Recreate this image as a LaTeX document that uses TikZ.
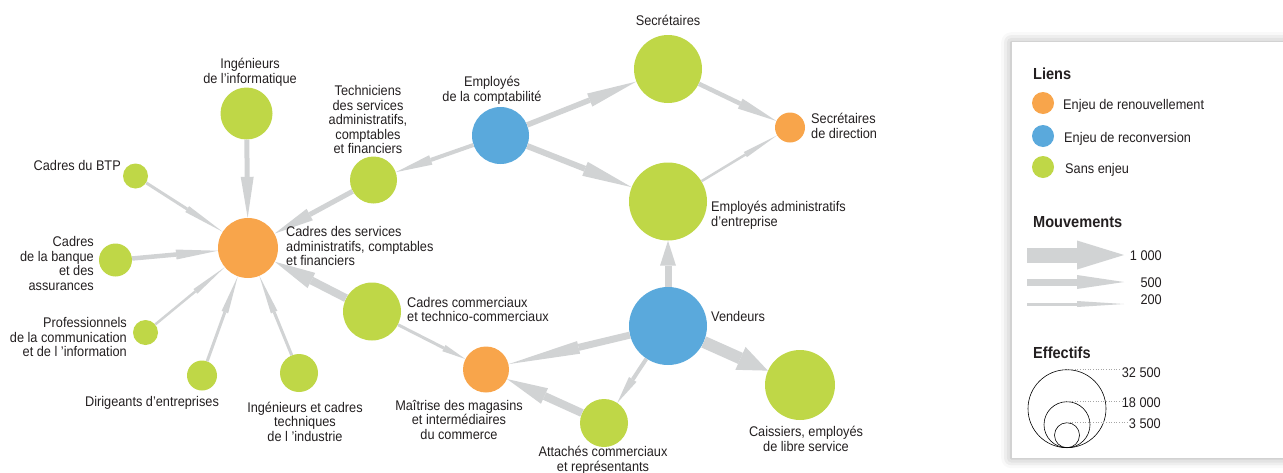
\documentclass[tikz,border=0pt]{standalone}
\usepackage{fontspec}
\setmainfont{Liberation Sans}[FakeStretch=0.91]
\usetikzlibrary{arrows.meta,shadows.blur}
\definecolor{orng}{HTML}{F8A54B}
\definecolor{blu}{HTML}{5AA9DC}
\definecolor{grn}{HTML}{BFD747}
\definecolor{agrey}{HTML}{D1D3D4}
\definecolor{txt}{HTML}{231F20}
\tikzset{
  job/.style={circle, inner sep=0pt, minimum size=#1},
  lbl/.style={text=txt, font=\fontsize{14}{14.5}\selectfont, inner sep=0pt},
  head/.style={text=txt, font=\fontsize{16}{18}\selectfont\bfseries, inner sep=0pt, anchor=base west},
  mv/.style n args={3}{draw=agrey, line width=#1, -{Triangle[length=#3, width=#2, line width=0pt]}},
  ring/.style={draw=black, line width=0.6pt, circle, inner sep=0pt, minimum size=#1, anchor=south},
  guide/.style={draw=gray!70, dotted, line width=0.6pt},
}
\begin{document}
\begin{tikzpicture}[x=1pt,y=-1pt]
\useasboundingbox (0,0) rectangle (1283,472);

% ---------- job nodes ----------
\node[job=52pt, fill=grn]  (infoIng) at (246.5,113.5) {};
\node[job=25pt, fill=grn]  (btp)     at (135.5,176) {};
\node[job=60pt, fill=orng] (cadsvc)  at (248,248) {};
\node[job=33pt, fill=grn]  (banque)  at (115.5,260) {};
\node[job=25pt, fill=grn]  (prof)    at (145.5,332.5) {};
\node[job=30pt, fill=grn]  (dirig)   at (202,375.5) {};
\node[job=38pt, fill=grn]  (ingtech) at (299,373) {};
\node[job=47pt, fill=grn]  (tech)    at (373.5,180) {};
\node[job=57pt, fill=blu]  (empcpt)  at (500.5,135.5) {};
\node[job=68pt, fill=grn]  (secr)    at (668,69) {};
\node[job=30pt, fill=orng] (secdir)  at (790,127.5) {};
\node[job=78pt, fill=grn]  (empadm)  at (668,201.5) {};
\node[job=78pt, fill=blu]  (vend)    at (668,326) {};
\node[job=70pt, fill=grn]  (caiss)   at (800,385) {};
\node[job=48pt, fill=grn]  (attach)  at (604,423) {};
\node[job=46pt, fill=orng] (maitr)   at (486,369.5) {};
\node[job=58pt, fill=grn]  (cadcom)  at (372,311.5) {};

% ---------- movements ----------
\draw[mv={5pt}{13pt}{41pt}]   (infoIng) -- (cadsvc);
\draw[mv={3pt}{7pt}{42pt}]    (btp) -- (cadsvc);
\draw[mv={4.5pt}{10pt}{42pt}] (banque) -- (cadsvc);
\draw[mv={2.5pt}{6pt}{38pt}]  (prof) -- (cadsvc);
\draw[mv={3pt}{7pt}{38pt}]    (dirig) -- (cadsvc);
\draw[mv={3pt}{7pt}{39pt}]    (ingtech) -- (cadsvc);
\draw[mv={8pt}{17pt}{41pt}]   (cadcom) -- (cadsvc);
\draw[mv={5pt}{13pt}{40pt}]   (tech) -- (cadsvc);
\draw[mv={4pt}{10pt}{37pt}]   (empcpt) -- (tech);
\draw[mv={5.5pt}{14pt}{50pt}] (empcpt) -- (secr);
\draw[mv={6pt}{15pt}{50pt}]   (empcpt) -- (empadm);
\draw[mv={4.5pt}{11pt}{40pt}] (secr) -- (secdir);
\draw[mv={2.5pt}{6pt}{37pt}]  (empadm) -- (secdir);
\draw[mv={7pt}{16pt}{25pt}]   (vend) -- (empadm);
\draw[mv={12pt}{25pt}{30pt}]  (vend) -- (caiss);
\draw[mv={4pt}{9pt}{28pt}]    (vend) -- (attach);
\draw[mv={7pt}{13pt}{72pt}]   (vend) -- (maitr);
\draw[mv={8pt}{17pt}{41pt}]   (attach) -- (maitr);
\draw[mv={3pt}{7pt}{24pt}]    (cadcom) -- (maitr);

% ---------- labels (base = last line) ----------
\node[lbl, anchor=base, align=center] (l-infoIng) at (250,83) {Ingénieurs\\de l’informatique};
\node[lbl, anchor=base east] (l-btp) at (121,170.5) {Cadres du BTP};
\node[lbl, anchor=base east, align=right] (l-banque) at (94,290) {Cadres\\de la banque\\et des\\assurances};
\node[lbl, anchor=base east, align=right] (l-prof) at (127,356.5) {Professionnels\\de la communication\\et de l ’information};
\node[lbl, anchor=base] (l-dirig) at (152,406.5) {Dirigeants d’entreprises};
\node[lbl, anchor=base, align=center] (l-ingtech) at (305,441) {Ingénieurs et cadres\\techniques\\de l ’industrie};
\node[lbl, anchor=base west, align=left] (l-cadsvc) at (286,265.5) {Cadres des services\\administratifs, comptables\\et financiers};
\node[lbl, anchor=base, align=center] (l-tech) at (368,153.5) {Techniciens\\des services\\administratifs,\\comptables\\et financiers};
\node[lbl, anchor=base, align=center] (l-empcpt) at (492,101) {Employés\\de la comptabilité};
\node[lbl, anchor=base] (l-secr) at (668,25) {Secrétaires};
\node[lbl, anchor=base west, align=left] (l-secdir) at (811,138) {Secrétaires\\de direction};
\node[lbl, anchor=base west, align=left] (l-empadm) at (711,226) {Employés administratifs\\d’entreprise};
\node[lbl, anchor=base west] (l-vend) at (711,321) {Vendeurs};
\node[lbl, anchor=base, align=center] (l-caiss) at (806,451) {Caissiers, employés\\de libre service};
\node[lbl, anchor=base, align=center] (l-attach) at (603,471) {Attachés commerciaux\\et représentants};
\node[lbl, anchor=base, align=center] (l-maitr) at (459,439) {Maîtrise des magasins\\et intermédiaires\\du commerce};
\node[lbl, anchor=base west, align=left] (l-cadcom) at (407,321.5) {Cadres commerciaux\\et technico-commerciaux};

% ---------- legend ----------
\node[draw=none, fill=white, inner sep=0pt, minimum width=280pt, minimum height=416pt, anchor=north west,
      blur shadow={shadow xshift=-1pt, shadow yshift=0pt, shadow blur radius=10pt, shadow opacity=35}]
  (legend) at (1012,42) {};

\node[head] (h-liens) at (1033,79) {Liens};
\node[job=22pt, fill=orng] (k-orng) at (1043,103) {};
\node[job=22pt, fill=blu]  (k-blu)  at (1043,136) {};
\node[job=22pt, fill=grn]  (k-grn)  at (1043,167) {};
\node[lbl, anchor=base west] (t-orng) at (1063,109) {Enjeu de renouvellement};
\node[lbl, anchor=base west] (t-blu)  at (1064,142) {Enjeu de reconversion};
\node[lbl, anchor=base west] (t-grn)  at (1065,173) {Sans enjeu};

\node[head] (h-mouv) at (1033,227) {Mouvements};
\coordinate (a1s) at (1027,255);  \coordinate (a1e) at (1124,255);
\coordinate (a2s) at (1027,282);  \coordinate (a2e) at (1124,282);
\coordinate (a3s) at (1027,304);  \coordinate (a3e) at (1124,304);
\draw[mv={15pt}{29pt}{47pt}] (a1s) -- (a1e);
\draw[mv={7pt}{14pt}{47pt}]  (a2s) -- (a2e);
\draw[mv={3pt}{6pt}{47pt}]   (a3s) -- (a3e);
\node[lbl, anchor=base east] (t-1000) at (1162,260) {1 000};
\node[lbl, anchor=base east] (t-500)  at (1162,287) {500};
\node[lbl, anchor=base east] (t-200)  at (1162,304) {200};

\node[head] (h-eff) at (1033,358) {Effectifs};
\node[ring=78pt] (r-big) at (1067,448) {};
\node[ring=46pt] (r-mid) at (1067,448) {};
\node[ring=25pt] (r-sml) at (1067,448) {};
\node[lbl, anchor=base east] (t-32500) at (1161,377) {32 500};
\node[lbl, anchor=base east] (t-18000) at (1161,407) {18 000};
\node[lbl, anchor=base east] (t-3500)  at (1161,428) {3 500};
\draw[guide] (r-big.north) -- (t-32500.west |- r-big.north);
\draw[guide] (r-mid.north) -- (t-18000.west |- r-mid.north);
\draw[guide] (r-sml.north) -- (t-3500.west |- r-sml.north);
\end{tikzpicture}
\end{document}
